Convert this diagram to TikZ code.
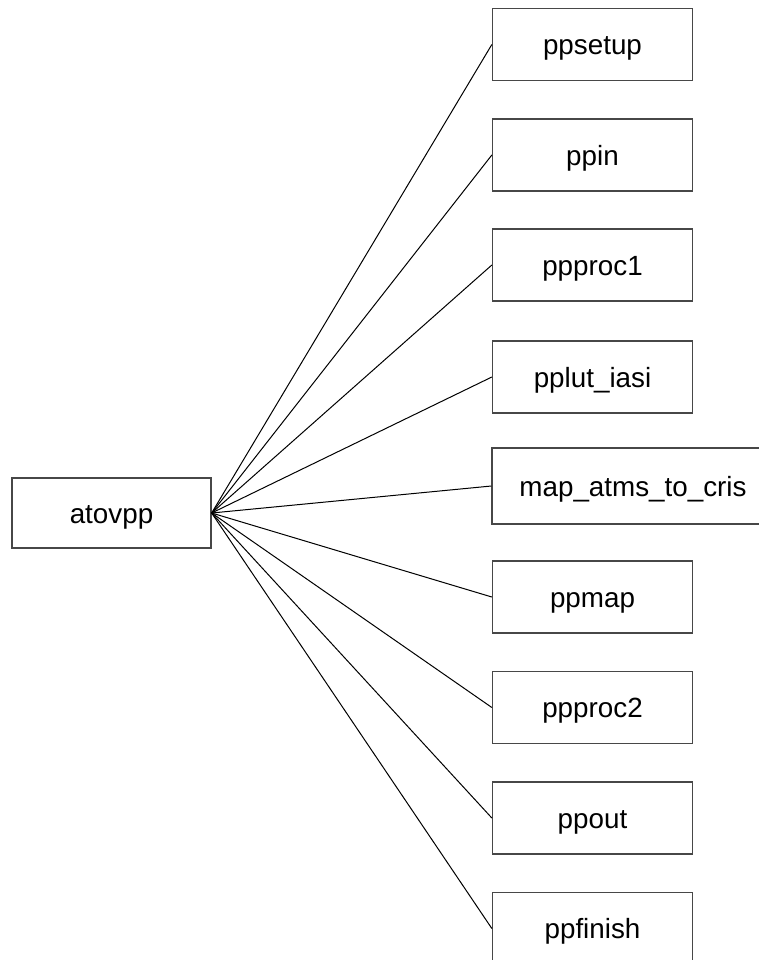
\documentclass[tikz,border=0pt]{standalone}
\usepackage{fontspec}
\setmainfont{Liberation Sans}
\begin{document}
\begin{tikzpicture}[x=0.5pt, y=-0.5pt,
  fbox/.style={draw=black!72, line width=0.65pt, fill=white, inner sep=0pt,
    minimum width=100pt, minimum height=36pt,
    text height=12pt, text depth=1.7pt,
    font=\fontsize{13.9pt}{16pt}\selectfont},
  link/.style={draw=black, line width=0.5pt}]
  \useasboundingbox (0,0) rectangle (759,960);
  \clip (0,0) rectangle (759,960);

  % caller
  \node[fbox, minimum width=99.5pt, minimum height=35pt] (atovpp) at (111.5,513) {atovpp};

  % callees
  \node[fbox] (ppsetup)  at (592.5,44.5) {ppsetup};
  \node[fbox] (ppin)     at (592.5,155)  {ppin};
  \node[fbox] (ppproc1)  at (592.5,265)  {ppproc1};
  \node[fbox] (pplut)    at (592.5,377)  {pplut\_iasi};
  \node[fbox, minimum width=141pt, minimum height=38pt] (mapatms) at (633,486) {map\_atms\_to\_cris};
  \node[fbox] (ppmap)    at (592.5,597)  {ppmap};
  \node[fbox] (ppproc2)  at (592.5,707.5){ppproc2};
  \node[fbox] (ppout)    at (592.5,818)  {ppout};
  \node[fbox] (ppfinish) at (592.5,928.5){ppfinish};

  % call edges
  \foreach \t in {ppsetup,ppin,ppproc1,pplut,mapatms,ppmap,ppproc2,ppout,ppfinish}
    \draw[link] (atovpp.east) -- (\t.west);
\end{tikzpicture}
\end{document}
